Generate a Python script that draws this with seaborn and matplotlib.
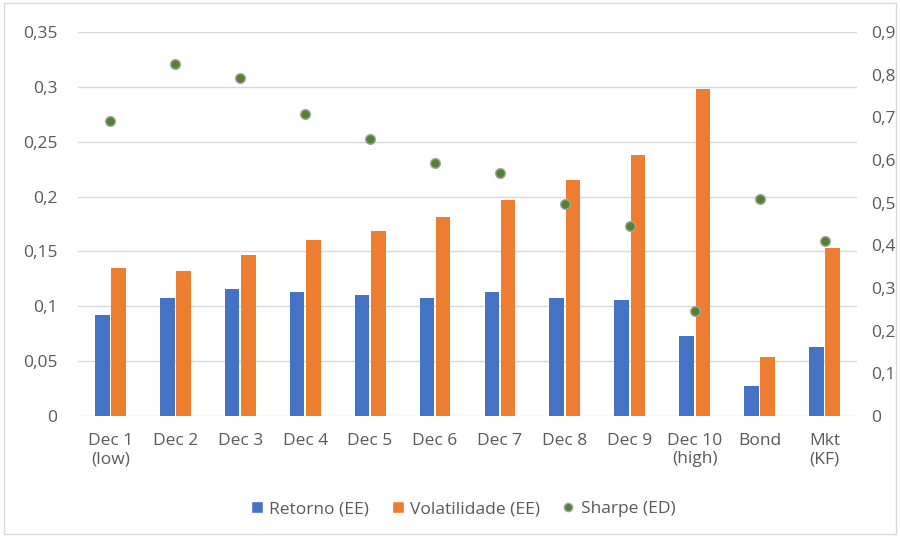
import numpy as np
import pandas as pd
import matplotlib.pyplot as plt
import seaborn as sns
from matplotlib.lines import Line2D
from matplotlib.patches import Patch

# dados do gráfico
categorias = ['Dec 1\n(low)', 'Dec 2', 'Dec 3', 'Dec 4', 'Dec 5', 'Dec 6', 'Dec 7',
              'Dec 8', 'Dec 9', 'Dec 10\n(high)', 'Bond', 'Mkt\n(KF)']
retorno = [0.092, 0.108, 0.116, 0.113, 0.110, 0.108, 0.113, 0.108, 0.106, 0.073, 0.027, 0.063]
volatilidade = [0.135, 0.132, 0.147, 0.160, 0.169, 0.181, 0.197, 0.215, 0.238, 0.298, 0.054, 0.153]
sharpe = [0.691, 0.825, 0.792, 0.708, 0.649, 0.593, 0.569, 0.497, 0.445, 0.246, 0.509, 0.410]

esq_ticks = [0, 0.05, 0.1, 0.15, 0.2, 0.25, 0.3, 0.35]
dir_ticks = [0, 0.1, 0.2, 0.3, 0.4, 0.5, 0.6, 0.7, 0.8, 0.9]

cor_azul = '#4472C4'
cor_laranja = '#ED7D31'
cor_verde = '#548235'
cor_texto = '#595959'
cor_grade = '#D9D9D9'
tam_fonte = 12.5

sns.set_style("white")
plt.rcParams['font.family'] = ['Open Sans', 'DejaVu Sans']
plt.rcParams['font.size'] = tam_fonte


def fmt(v):
    return ('%g' % v).replace('.', ',')


df = pd.DataFrame({
    'cat': categorias * 2,
    'valor': retorno + volatilidade,
    'serie': ['Retorno (EE)'] * len(categorias) + ['Volatilidade (EE)'] * len(categorias),
})

fig = plt.figure(figsize=(9, 5.36), dpi=100)
ax = fig.add_axes([78 / 900, 1 - 416 / 536, (857 - 78) / 900, (416 - 32) / 536])

sns.barplot(data=df, x='cat', y='valor', hue='serie', order=categorias,
            palette=[cor_azul, cor_laranja], saturation=1, width=0.5, gap=0.1,
            linewidth=0, legend=False, ax=ax)

ax.set_ylim(0, 0.35)
ax.set_yticks(esq_ticks)
ax.set_yticklabels([fmt(t) for t in esq_ticks])
ax.yaxis.grid(True, color=cor_grade, linewidth=1)
ax.set_axisbelow(True)
ax.set_xlabel('')
ax.set_ylabel('')
ax.set_xlim(-0.5, len(categorias) - 0.5)
for s in ax.spines.values():
    s.set_visible(False)
ax.tick_params(axis='both', length=0, colors=cor_texto, labelsize=tam_fonte)
ax.tick_params(axis='y', pad=15)
ax.tick_params(axis='x', pad=12)

ax2 = ax.twinx()
sns.stripplot(x=categorias, y=sharpe, order=categorias, jitter=False,
              color=cor_verde, size=7, linewidth=1, edgecolor='#A5A5A5', ax=ax2, zorder=5)
ax2.set_ylim(0, 0.9)
ax2.set_yticks(dir_ticks)
ax2.set_yticklabels([fmt(t) for t in dir_ticks])
ax2.set_xlim(-0.5, len(categorias) - 0.5)
for s in ax2.spines.values():
    s.set_visible(False)
ax2.tick_params(axis='both', length=0, colors=cor_texto, labelsize=tam_fonte)
ax2.tick_params(axis='y', pad=10)

handles = [
    Patch(facecolor=cor_azul, label='Retorno (EE)'),
    Patch(facecolor=cor_laranja, label='Volatilidade (EE)'),
    Line2D([], [], marker='o', linestyle='', color=cor_verde, markeredgecolor='#A5A5A5',
           markersize=6, label='Sharpe (ED)'),
]
leg = fig.legend(handles=handles, loc='center', bbox_to_anchor=(463 / 900, 1 - 509 / 536),
                 ncol=3, frameon=False, fontsize=tam_fonte, handlelength=0.7, handleheight=0.7,
                 handletextpad=0.35, columnspacing=1.3)
for t in leg.get_texts():
    t.set_color(cor_texto)

# borda do gráfico
fig.patches.append(plt.Rectangle((0.004, 0.004), 0.992, 0.99, transform=fig.transFigure,
                                 fill=False, edgecolor=cor_grade, linewidth=1))

fig.savefig('out.png', dpi=100)
